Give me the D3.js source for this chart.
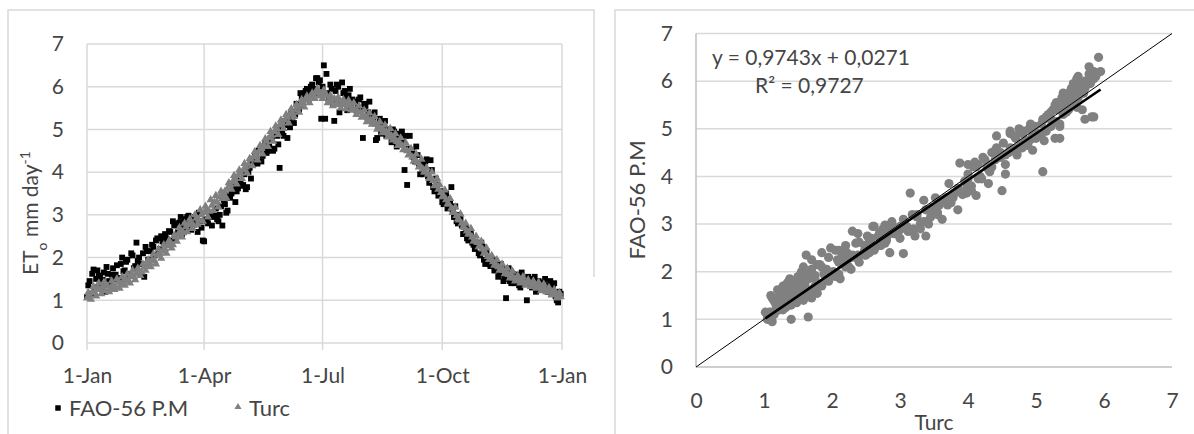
<!DOCTYPE html>
<html>
<head>
<meta charset="utf-8">
<script src="https://cdn.jsdelivr.net/npm/d3@7"></script>
<style>
  body { margin: 0; background: #fff; }
  svg text { font-family: Lato, "Open Sans", sans-serif; fill: #454545; }
</style>
</head>
<body>
<svg id="chart" width="1194" height="434"></svg>
<script>
// ---------------- DATA ----------------
const startDate = "2015-01-01";
const seriesNames = ["FAO-56 P.M", "Turc"];

// Turc ET0 (mm/day) on even days of the year (day 0, 2, 4 ... 364)
const turcEven = [
  1.05, 1.12, 1.20, 1.18, 1.28,  1.25, 1.30, 1.22, 1.33, 1.28,
  1.35, 1.30, 1.42, 1.38, 1.45,  1.50, 1.46, 1.58, 1.55, 1.62,
  1.70, 1.66, 1.78, 1.82, 1.88,  1.95, 1.92, 2.05, 2.10, 2.15,
  2.20, 2.28, 2.35, 2.30, 2.48,  2.55, 2.62, 2.58, 2.72, 2.78,
  2.80, 2.75, 2.92, 2.88, 3.00,  3.05, 3.12, 3.08, 3.22, 3.30,
  3.30, 3.42, 3.38, 3.55, 3.62,  3.70, 3.78, 3.85, 3.92, 3.98,
  4.05, 4.12, 4.18, 4.30, 4.35,  4.40, 4.48, 4.55, 4.62, 4.72,
  4.80, 4.86, 4.95, 5.02, 5.10,  5.15, 5.22, 5.28, 5.35, 5.40,
  5.45, 5.52, 5.58, 5.62, 5.68,  5.70, 5.75, 5.80, 5.85, 5.88,
  5.82, 5.92, 5.78, 5.70, 5.65,  5.72, 5.60, 5.68, 5.62, 5.58,
  5.60, 5.55, 5.50, 5.45, 5.42,  5.40, 5.35, 5.30, 5.25, 5.22,
  5.20, 5.12, 5.08, 5.02, 4.98,  4.95, 4.90, 4.85, 4.78, 4.72,
  4.70, 4.62, 4.55, 4.50, 4.42,  4.35, 4.30, 4.22, 4.15, 4.08,
  4.00, 3.95, 3.88, 3.80, 3.72,  3.60, 3.52, 3.45, 3.35, 3.25,
  3.15, 3.05, 2.98, 2.88, 2.80,  2.70, 2.62, 2.55, 2.48, 2.40,
  2.35, 2.28, 2.20, 2.12, 2.02,  1.95, 1.90, 1.85, 1.78, 1.75,
  1.70, 1.65, 1.60, 1.58, 1.52,  1.50, 1.48, 1.45, 1.42, 1.40,
  1.40, 1.36, 1.38, 1.32, 1.30,  1.30, 1.26, 1.22, 1.20, 1.18,
  1.15, 1.12, 1.08
];
// Turc ET0 on odd days (day 1, 3 ... 363)
const turcOdd = [
  1.18, 1.02, 1.32, 1.10, 1.40,  1.15, 1.42, 1.35, 1.20, 1.45,
  1.25, 1.50, 1.28, 1.55, 1.35,  1.62, 1.40, 1.70, 1.48, 1.75,
  1.58, 1.85, 1.70, 1.95, 1.78,  2.08, 1.85, 2.20, 1.98, 2.30,
  2.10, 2.40, 2.22, 2.52, 2.38,  2.70, 2.48, 2.80, 2.60, 2.90,
  2.68, 3.00, 2.78, 3.12, 2.85,  3.20, 2.95, 3.35, 3.10, 3.45,
  3.18, 3.55, 3.48, 3.40, 3.75,  3.60, 3.92, 3.72, 4.05, 3.85,
  4.20, 3.98, 4.32, 4.15, 4.48,  4.28, 4.62, 4.42, 4.78, 4.60,
  4.95, 4.72, 5.08, 4.88, 5.22,  5.02, 5.35, 5.15, 5.48, 5.30,
  5.58, 5.40, 5.70, 5.52, 5.78,  5.62, 5.85, 5.72, 5.95, 5.78,
  5.72, 5.85, 5.62, 5.80, 5.55,  5.58, 5.75, 5.50, 5.70, 5.48,
  5.68, 5.45, 5.62, 5.35, 5.55,  5.28, 5.45, 5.18, 5.38, 5.12,
  5.30, 5.00, 5.18, 4.92, 5.10,  4.82, 5.02, 4.75, 4.90, 4.62,
  4.80, 4.52, 4.68, 4.40, 4.55,  4.25, 4.42, 4.12, 4.30, 4.00,
  4.10, 3.85, 4.00, 3.68, 3.85,  3.70, 3.42, 3.58, 3.25, 3.38,
  3.05, 3.18, 2.90, 3.02, 2.72,  2.80, 2.55, 2.68, 2.38, 2.50,
  2.25, 2.38, 2.10, 2.22, 1.95,  2.05, 1.82, 1.95, 1.70, 1.85,
  1.62, 1.75, 1.52, 1.68, 1.45,  1.58, 1.40, 1.55, 1.35, 1.48,
  1.32, 1.45, 1.28, 1.42, 1.22,  1.38, 1.20, 1.30, 1.12, 1.25,
  1.05, 1.18
];

// FAO-56 Penman-Monteith ET0 (mm/day), even days
const faoEven = [
  1.08, 1.45, 1.62, 1.30, 1.70,  1.55, 1.48, 1.20, 1.62, 1.40,
  1.75, 1.60, 1.52, 1.85, 1.68,  1.90, 1.62, 2.10, 1.75, 2.35,
  2.00, 1.85, 1.55, 2.15, 1.95,  2.30, 2.05, 2.45, 2.20, 2.38,
  2.55, 2.30, 2.60, 2.85, 2.45,  2.60, 2.95, 2.70, 2.80, 2.98,
  2.65, 2.90, 2.80, 3.05, 2.70,  2.38, 2.85, 2.95, 2.75, 3.00,
  2.90, 3.00, 2.75, 3.25, 3.10,  3.40, 3.55, 3.30, 3.62, 3.75,
  3.70, 3.60, 4.00, 3.85, 4.20,  4.35, 4.50, 4.25, 4.60, 4.45,
  4.60, 4.75, 4.55, 4.85, 4.10,  4.95, 5.20, 4.80, 5.05, 5.30,
  5.35, 5.55, 5.85, 5.70, 5.90,  5.80, 6.00, 5.95, 6.20, 6.10,
  5.25, 6.50, 6.30, 5.75, 5.95,  5.20, 6.05, 5.40, 6.10, 5.90,
  5.45, 5.95, 5.70, 5.65, 5.50,  5.75, 4.80, 5.55, 5.40, 5.35,
  5.25, 4.75, 5.10, 4.90, 5.05,  4.85, 5.00, 4.70, 4.95, 4.60,
  4.80, 4.95, 4.05, 3.70, 4.85,  4.50, 4.25, 4.40, 3.95, 4.20,
  4.25, 3.90, 4.28, 3.65, 3.85,  3.45, 3.55, 3.25, 3.50, 3.20,
  3.65, 2.95, 2.85, 3.00, 2.75,  2.55, 2.45, 2.65, 2.35, 2.20,
  2.30, 2.05, 2.25, 1.85, 2.00,  1.80, 1.95, 1.70, 1.55, 1.85,
  1.45, 1.05, 1.75, 1.40, 1.60,  1.55, 1.35, 1.65, 1.50, 1.00,
  1.45, 1.30, 1.55, 1.25, 1.40,  1.35, 1.50, 1.20, 1.45, 1.30,
  1.10, 0.95, 1.15
];
// FAO-56 P.M ET0, odd days
const faoOdd = [
  1.35, 1.15, 1.72, 1.50, 1.58,  1.38, 1.65, 1.78, 1.45, 1.60,
  1.50, 1.82, 1.45, 2.00, 1.70,  1.95, 1.58, 2.05, 1.80, 1.92,
  1.85, 2.10, 2.25, 1.95, 2.15,  2.25, 2.40, 2.10, 2.50, 2.35,
  2.45, 2.62, 2.40, 2.75, 2.80,  2.82, 2.55, 2.90, 2.95, 2.85,
  2.75, 2.95, 2.60, 2.85, 2.40,  2.90, 2.80, 3.05, 2.95, 3.15,
  2.85, 3.20, 3.35, 3.05, 3.45,  3.50, 3.65, 3.55, 3.80, 3.68,
  3.95, 3.65, 4.10, 4.25, 4.40,  4.20, 4.55, 4.38, 4.70, 4.50,
  4.80, 4.50, 4.90, 4.65, 5.05,  4.85, 5.10, 5.25, 5.40, 5.15,
  5.60, 5.45, 5.75, 5.85, 5.95,  5.90, 6.05, 5.85, 6.20, 6.15,
  6.00, 5.25, 5.85, 6.05, 5.60,  5.90, 6.00, 5.65, 5.85, 5.75,
  5.80, 5.55, 5.65, 5.45, 5.70,  5.50, 5.60, 5.30, 5.65, 5.20,
  5.40, 4.80, 5.25, 5.10, 5.20,  4.95, 4.85, 5.00, 4.75, 4.90,
  4.90, 4.70, 4.85, 4.55, 4.45,  4.35, 4.60, 4.20, 4.15, 3.95,
  4.30, 3.75, 4.05, 3.55, 3.70,  3.55, 3.30, 3.40, 3.15, 3.30,
  3.10, 3.20, 2.80, 2.90, 2.55,  2.70, 2.40, 2.55, 2.30, 2.35,
  2.10, 2.35, 1.95, 2.15, 1.85,  1.90, 1.70, 1.85, 1.60, 1.75,
  1.50, 1.70, 1.45, 1.62, 1.40,  1.60, 1.30, 1.50, 1.45, 1.55,
  1.35, 1.50, 1.20, 1.45, 1.25,  1.42, 1.28, 1.35, 1.15, 1.40,
  1.00, 1.20
];

const dateTickValues = ["2015-01-01", "2015-04-01", "2015-07-01", "2015-10-01", "2016-01-01"];
const yTickValues = [0, 1, 2, 3, 4, 5, 6, 7];
const xTickValuesRight = [0, 1, 2, 3, 4, 5, 6, 7];
const fitSlope = 0.9743;
const fitIntercept = 0.0271;
const fitR2 = 0.9727;
const leftYTitle = ["ET", "o", " mm day", "-1"];
const rightYTitle = "FAO-56 P.M";
const rightXTitle = "Turc";

// ---------------- DRAW ----------------
const svg = d3.select("#chart");
const gridColor = "#d9d9d9";
const axisColor = "#bfbfbf";
const tickFont = 21;

const parse = d3.timeParse("%Y-%m-%d");
const t0 = parse(startDate);
const rows = [];
turcEven.forEach((v, i) => {
  rows.push({ date: d3.timeDay.offset(t0, 2 * i), turc: v, fao: faoEven[i] });
  if (i < turcOdd.length) rows.push({ date: d3.timeDay.offset(t0, 2 * i + 1), turc: turcOdd[i], fao: faoOdd[i] });
});
const turcAll = rows.map(r => r.turc);

// frames
svg.append("path").attr("d", "M8,434 V10 H594 V277")
  .attr("fill", "none").attr("stroke", gridColor).attr("stroke-width", 1.5);
svg.append("path").attr("d", "M615,434 V10 H1194")
  .attr("fill", "none").attr("stroke", gridColor).attr("stroke-width", 1.5);

// ---- Left chart: time series ----
const xL = d3.scaleTime().domain([parse(dateTickValues[0]), parse(dateTickValues[4])]).range([87, 562]);
const yL = d3.scaleLinear().domain([0, 7]).range([343, 44]);
const gL = svg.append("g");

gL.append("g").selectAll("line").data(yTickValues).join("line")
  .attr("x1", xL.range()[0]).attr("x2", xL.range()[1])
  .attr("y1", d => yL(d)).attr("y2", d => yL(d))
  .attr("stroke", gridColor).attr("stroke-width", 1.5);
gL.append("g").selectAll("line").data(dateTickValues.map(parse)).join("line")
  .attr("x1", d => xL(d)).attr("x2", d => xL(d))
  .attr("y1", yL(7)).attr("y2", yL(0) + 7)
  .attr("stroke", gridColor).attr("stroke-width", 1.5);

const axLY = gL.append("g").attr("transform", `translate(${xL.range()[0]},0)`)
  .call(d3.axisLeft(yL).tickValues(yTickValues).tickSize(0).tickPadding(23).tickFormat(d3.format("d")));
const axLX = gL.append("g").attr("transform", `translate(0,${yL(0)})`)
  .call(d3.axisBottom(xL).tickValues(dateTickValues.map(parse)).tickSize(0).tickPadding(25).tickFormat(d3.timeFormat("%-d-%b")));
[axLY, axLX].forEach(a => {
  a.select(".domain").remove();
  a.attr("font-family", null).attr("font-size", null);
  a.selectAll("text").style("font-size", tickFont + "px").attr("fill", null);
});

// series
const sq = d3.symbol(d3.symbolSquare).size(34);
const tri = d3.symbol(d3.symbolTriangle).size(30);
gL.append("g").selectAll("path").data(rows).join("path")
  .attr("d", sq).attr("transform", d => `translate(${xL(d.date)},${yL(d.fao)})`)
  .attr("fill", "#000");
gL.append("g").selectAll("path").data(rows).join("path")
  .attr("d", tri).attr("transform", d => `translate(${xL(d.date)},${yL(d.turc)})`)
  .attr("fill", "#808080");

// y title
const lt = gL.append("text").attr("transform", "translate(38,213) rotate(-90)")
  .attr("text-anchor", "middle").style("font-size", "21px");
lt.append("tspan").text(leftYTitle[0]);
lt.append("tspan").text(leftYTitle[1]).attr("baseline-shift", "sub").style("font-size", "14px");
lt.append("tspan").text(leftYTitle[2]);
lt.append("tspan").text(leftYTitle[3]).attr("baseline-shift", "super").style("font-size", "14px");

// legend
const lg = gL.append("g");
lg.append("path").attr("d", d3.symbol(d3.symbolSquare).size(30)).attr("transform", "translate(58,408)").attr("fill", "#000");
lg.append("text").attr("x", 69).attr("y", 408).attr("dy", "0.35em").style("font-size", "22px").text(seriesNames[0]);
lg.append("path").attr("d", d3.symbol(d3.symbolTriangle).size(22)).attr("transform", "translate(238,407)").attr("fill", "#808080");
lg.append("text").attr("x", 249).attr("y", 408).attr("dy", "0.35em").style("font-size", "22px").text(seriesNames[1]);

// ---- Right chart: scatter ----
const xR = d3.scaleLinear().domain([0, 7]).range([696, 1172]);
const yR = d3.scaleLinear().domain([0, 7]).range([367, 33.5]);
const gR = svg.append("g");

gR.append("g").selectAll("line").data(yTickValues.filter(d => d > 0)).join("line")
  .attr("x1", xR(0)).attr("x2", xR(7))
  .attr("y1", d => yR(d)).attr("y2", d => yR(d))
  .attr("stroke", gridColor).attr("stroke-width", 1.5);
gR.append("line").attr("x1", xR(0)).attr("x2", xR(0)).attr("y1", yR(7)).attr("y2", yR(0))
  .attr("stroke", axisColor).attr("stroke-width", 1.5);
gR.append("line").attr("x1", xR(0)).attr("x2", xR(7)).attr("y1", yR(0)).attr("y2", yR(0))
  .attr("stroke", axisColor).attr("stroke-width", 1.5);

const axRY = gR.append("g").attr("transform", `translate(${xR(0)},0)`)
  .call(d3.axisLeft(yR).tickValues(yTickValues).tickSize(0).tickPadding(23).tickFormat(d3.format("d")));
const axRX = gR.append("g").attr("transform", `translate(0,${yR(0)})`)
  .call(d3.axisBottom(xR).tickValues(xTickValuesRight).tickSize(0).tickPadding(26).tickFormat(d3.format("d")));
[axRY, axRX].forEach(a => {
  a.select(".domain").remove();
  a.attr("font-family", null).attr("font-size", null);
  a.selectAll("text").style("font-size", tickFont + "px").attr("fill", null);
});

gR.append("g").selectAll("circle").data(rows).join("circle")
  .attr("cx", d => xR(d.turc)).attr("cy", d => yR(d.fao)).attr("r", 4.6)
  .attr("fill", "#808080");

// 1:1 line
gR.append("line").attr("x1", xR(0)).attr("y1", yR(0)).attr("x2", xR(7)).attr("y2", yR(7))
  .attr("stroke", "#000").attr("stroke-width", 1);
// regression line
const xMin = d3.min(turcAll), xMax = d3.max(turcAll);
gR.append("line")
  .attr("x1", xR(xMin)).attr("y1", yR(fitSlope * xMin + fitIntercept))
  .attr("x2", xR(xMax)).attr("y2", yR(fitSlope * xMax + fitIntercept))
  .attr("stroke", "#000").attr("stroke-width", 2.6);

const comma = v => v.toFixed(4).replace(".", ",");
gR.append("text").attr("x", 712).attr("y", 58).attr("dy", "0.35em").style("font-size", "21px")
  .text(`y = ${comma(fitSlope)}x + ${comma(fitIntercept)}`);
gR.append("text").attr("x", 755).attr("y", 86).attr("dy", "0.35em").style("font-size", "21px")
  .text(`R\u00B2 = ${comma(fitR2)}`);

gR.append("text").attr("transform", "translate(645,200) rotate(-90)").attr("text-anchor", "middle")
  .style("font-size", "22px").text(rightYTitle);
gR.append("text").attr("x", 934).attr("y", 423).attr("dy", "0.35em").attr("text-anchor", "middle")
  .style("font-size", "21px").text(rightXTitle);
</script>
</body>
</html>
